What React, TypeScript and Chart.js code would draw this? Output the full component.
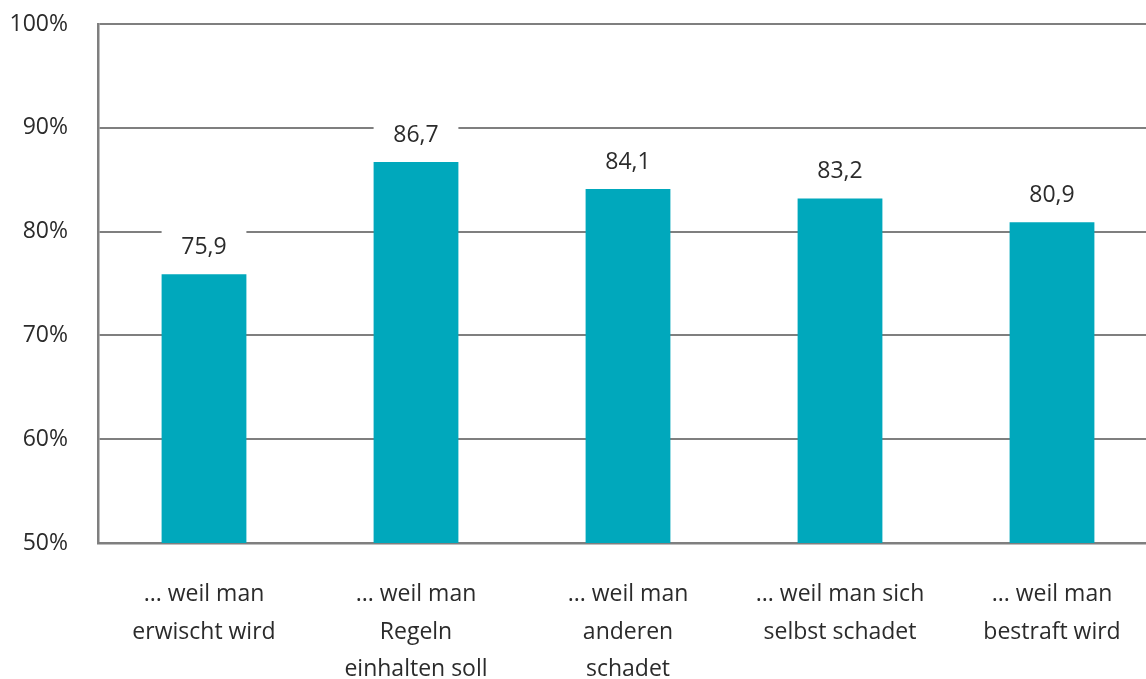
import React, { useEffect, useRef } from "react";
import { Chart, registerables, Plugin } from "chart.js";

Chart.register(...registerables);

const categories: string[][] = [
  ["... weil man", "erwischt wird"],
  ["... weil man", "Regeln", "einhalten soll"],
  ["... weil man", "anderen", "schadet"],
  ["... weil man sich", "selbst schadet"],
  ["... weil man", "bestraft wird"],
];
const values = [75.9, 86.7, 84.1, 83.2, 80.9];
const valueLabels = ["75,9", "86,7", "84,1", "83,2", "80,9"];

const FONT = "'Open Sans', sans-serif";
const TEXT = "#2b2b2b";
const LINE = "#7f7f7f";

// white box + value above each bar (the box breaks the grid line)
const valueLabelPlugin: Plugin<"bar"> = {
  id: "valueLabels",
  afterDatasetsDraw(chart) {
    const ctx = chart.ctx;
    const meta = chart.getDatasetMeta(0);
    ctx.save();
    ctx.font = `23px ${FONT}`;
    ctx.textAlign = "center";
    ctx.textBaseline = "middle";
    meta.data.forEach((bar: any, i) => {
      const w = bar.width;
      const cy = bar.y - 27;
      ctx.fillStyle = "#ffffff";
      ctx.fillRect(bar.x - w / 2, cy - 20, w, 34);
      ctx.fillStyle = TEXT;
      ctx.fillText(valueLabels[i], bar.x, cy);
    });
    ctx.restore();
  },
};

export default function App() {
  const canvasRef = useRef<HTMLCanvasElement>(null);

  useEffect(() => {
    const ctx = canvasRef.current?.getContext("2d");
    if (!ctx) return;
    const chart = new Chart(ctx, {
      type: "bar",
      data: {
        labels: categories,
        datasets: [
          {
            data: values,
            backgroundColor: "#00a8bc",
            categoryPercentage: 1,
            barPercentage: 0.4,
          },
        ],
      },
      options: {
        responsive: false,
        animation: false,
        layout: { padding: { top: 24, left: 0, right: 0, bottom: 0 } },
        plugins: {
          legend: { display: false },
          tooltip: { enabled: false },
        },
        scales: {
          x: {
            grid: { display: false },
            border: { color: LINE, width: 2.5 },
            ticks: {
              color: TEXT,
              font: { family: FONT, size: 23, lineHeight: 1.63 },
              padding: 25,
              maxRotation: 0,
            },
            afterFit: (scale: any) => {
              scale.height = 136;
              scale.paddingLeft = 0;
              scale.paddingRight = 0;
            },
          },
          y: {
            min: 50,
            max: 100,
            grid: { color: LINE, lineWidth: 2, drawTicks: false },
            border: { color: LINE, width: 2.5 },
            ticks: {
              stepSize: 10,
              color: TEXT,
              font: { family: FONT, size: 23 },
              padding: 30,
              callback: (v) => `${v}%`,
            },
            afterFit: (scale: any) => {
              scale.width = 98;
              scale.paddingTop = 0;
              scale.paddingBottom = 0;
            },
          },
        },
      },
      plugins: [valueLabelPlugin],
    });
    return () => chart.destroy();
  }, []);

  return (
    <div
      style={{
        position: "fixed",
        left: 0,
        top: 0,
        width: 1146,
        height: 679,
        overflow: "hidden",
        background: "#ffffff",
      }}
    >
      <canvas ref={canvasRef} width={1158} height={679} style={{ width: 1158, height: 679 }} />
    </div>
  );
}
